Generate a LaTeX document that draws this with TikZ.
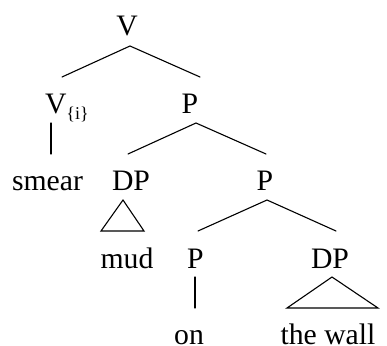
\documentclass[tikz,border=0pt]{standalone}
\usepackage{fontspec}
\setmainfont{Liberation Serif}
\begin{document}
\begin{tikzpicture}[x=1pt,y=-1pt,
  lbl/.style={inner sep=0pt,outer sep=0pt,anchor=base,font=\fontsize{29.7}{32}\selectfont},
  edge/.style={line width=1.1pt,line cap=round,line join=miter}]
\useasboundingbox (0,0) rectangle (387,345);
% nodes
\node[lbl] (v) at (127,35) {V};
\node[lbl,anchor=base west] (vi) at (45,113) {V\raisebox{-6pt}{\fontsize{18}{18}\selectfont\{i\}}};
\node[lbl] (p1) at (190,113) {P};
\node[lbl] (smear) at (47.5,190) {smear};
\node[lbl] (dp1) at (131,190) {DP};
\node[lbl] (p2) at (265,190) {P};
\node[lbl] (mud) at (127,268) {mud};
\node[lbl] (p3) at (195.5,268) {P};
\node[lbl] (dp2) at (330,268) {DP};
\node[lbl] (on) at (189,344) {on};
\node[lbl] (wall) at (328,344) {the wall};
% edges
\draw[edge] ([shift={(17,-36)}]vi.base west) -- ([shift={(3,11)}]v.base) -- ([shift={(10,-36)}]p1.base);
\draw[edge] ([shift={(6,10)}]vi.base west) -- ([shift={(3.5,-36)}]smear.base);
\draw[edge] ([shift={(-3,-36)}]dp1.base) -- ([shift={(6,10)}]p1.base) -- ([shift={(1,-36)}]p2.base);
\draw[edge] ([shift={(-8,10)}]dp1.base) -- ([shift={(-30,41)}]dp1.base) -- ([shift={(13,41)}]dp1.base) -- cycle;
\draw[edge] ([shift={(2.5,-37)}]p3.base) -- ([shift={(2,10)}]p2.base) -- ([shift={(6,-37)}]dp2.base);
\draw[edge] ([shift={(-0.5,9)}]p3.base) -- ([shift={(6,-36)}]on.base);
\draw[edge] ([shift={(2,9)}]dp2.base) -- ([shift={(-43,40)}]dp2.base) -- ([shift={(48,40)}]dp2.base) -- cycle;
\end{tikzpicture}
\end{document}
